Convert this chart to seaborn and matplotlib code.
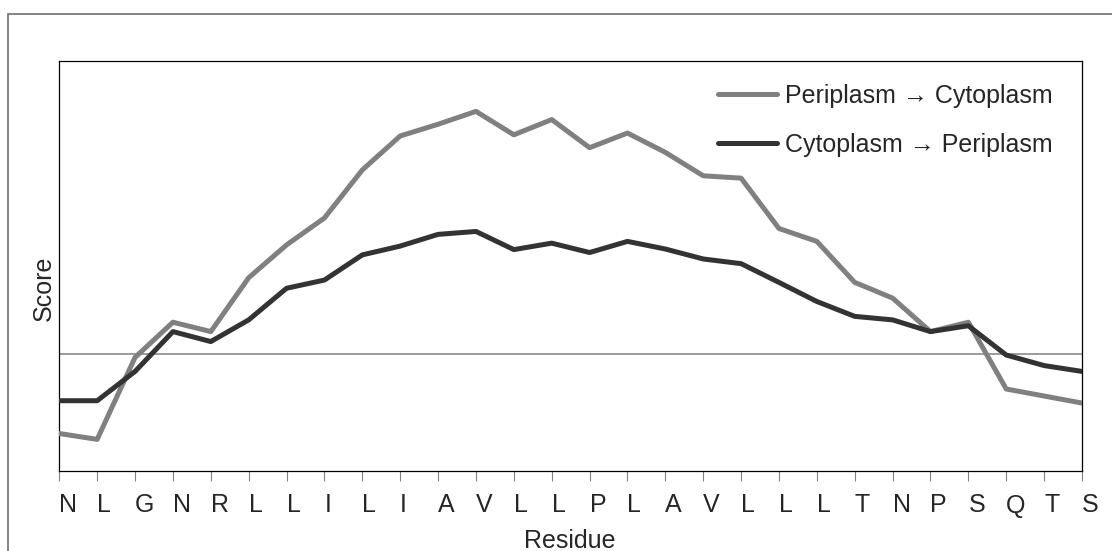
import matplotlib
matplotlib.use("Agg")
import matplotlib.pyplot as plt
import seaborn as sns
import pandas as pd
from matplotlib.patches import Rectangle

residues = ["N", "L", "G", "N", "R", "L", "L", "I", "L", "I", "A", "V", "L", "L",
            "P", "L", "A", "V", "L", "L", "L", "T", "N", "P", "S", "Q", "T", "S"]
peri_to_cyto = [-0.68, -0.73, -0.03, 0.27, 0.19, 0.65, 0.93, 1.16, 1.57, 1.86,
                1.96, 2.07, 1.87, 2.00, 1.76, 1.885, 1.72, 1.52, 1.50, 1.07,
                0.96, 0.61, 0.476, 0.19, 0.27, -0.30, -0.36, -0.42]
cyto_to_peri = [-0.40, -0.40, -0.15, 0.19, 0.105, 0.29, 0.56, 0.63, 0.845, 0.92,
                1.02, 1.045, 0.89, 0.945, 0.865, 0.96, 0.895, 0.81, 0.77, 0.61,
                0.447, 0.32, 0.29, 0.19, 0.24, -0.01, -0.10, -0.15]
series_names = ["Periplasm \u2192 Cytoplasm", "Cytoplasm \u2192 Periplasm"]
series_colors = ["#808080", "#333333"]

sns.set_theme(style="white")
plt.rcParams["font.family"] = ["Liberation Sans", "DejaVu Sans"]

rows = []
for name, vals in zip(series_names, [peri_to_cyto, cyto_to_peri]):
    for i, v in enumerate(vals):
        rows.append({"pos": i, "score": v, "series": name})
df = pd.DataFrame(rows)

W, H = 1112, 551
fig = plt.figure(figsize=(W / 100, H / 100), dpi=100)
x0, x1, ytop, ybot = 59.3, 1082, 61, 471
ax = fig.add_axes([x0 / W, 1 - ybot / H, (x1 - x0) / W, (ybot - ytop) / H])

ax.axhline(0, color="#808080", lw=1.1, zorder=1)
sns.lineplot(data=df, x="pos", y="score", hue="series", hue_order=series_names,
             palette=series_colors, lw=3.6, ax=ax, zorder=3)

ax.set_xlim(0, len(residues) - 1)
ax.set_ylim(-1, 2.5)
ax.set_xticks(range(len(residues)))
ax.set_xticklabels(residues, ha="left", fontsize=18)
ax.set_yticks([])
ax.tick_params(axis="x", direction="out", length=7.2, width=0.8, color="#808080",
               pad=9, bottom=True)
for s in ax.spines.values():
    s.set_color("black")
    s.set_linewidth(0.9)
ax.set_xlabel("")
ax.set_ylabel("")

fig.text(570 / W, 1 - 548 / H, "Residue", ha="center", va="baseline", fontsize=18)
fig.text(51 / W, 1 - 288 / H, "Score", ha="center", va="baseline", rotation=90,
         rotation_mode="anchor", fontsize=18)

handles, labels = ax.get_legend_handles_labels()
leg = ax.legend(handles, labels, loc="upper left",
                bbox_to_anchor=(718 / W, 1 - 84 / H), bbox_transform=fig.transFigure,
                frameon=False, fontsize=18, handlelength=2.36, handletextpad=0.32,
                labelspacing=1.0, borderpad=0, borderaxespad=0)
for ln in leg.get_lines():
    ln.set_linewidth(3.6)

fig.patches.append(Rectangle((8 / W, -0.05), 1.1, 1 - 14 / H + 0.05,
                             transform=fig.transFigure, fill=False,
                             edgecolor="#707070", lw=1.2, clip_on=False))

fig.savefig("out.png", dpi=100, facecolor="white")
